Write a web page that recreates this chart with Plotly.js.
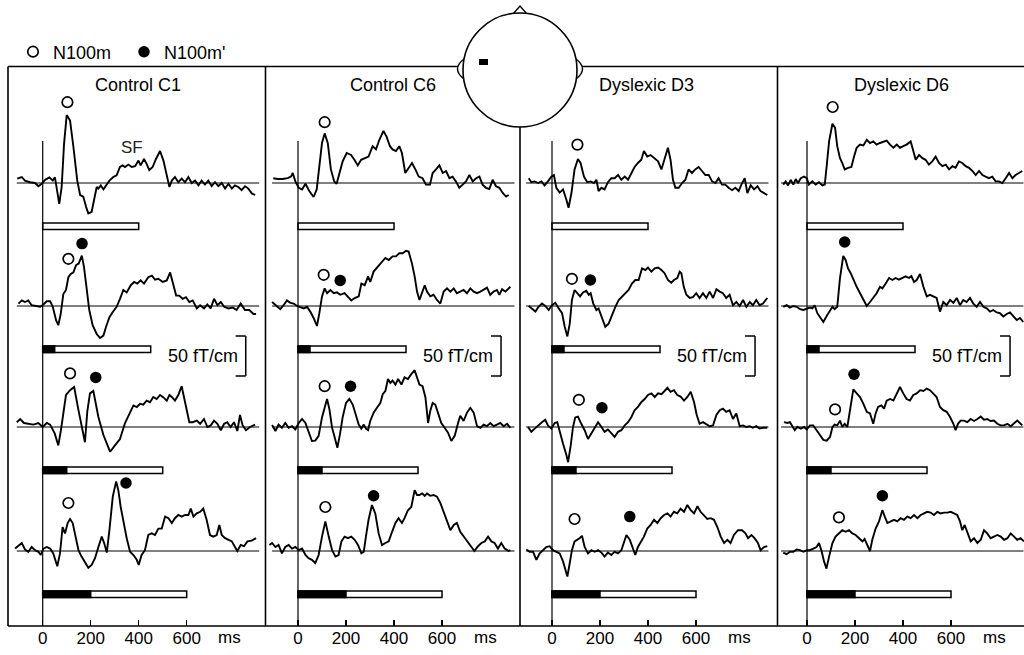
<!DOCTYPE html>
<html><head><meta charset="utf-8">
<script src="https://cdn.plot.ly/plotly-3.0.1.min.js"></script>
<style>html,body{margin:0;padding:0;background:#fff;overflow:hidden}</style>
</head><body><div id="chart" style="width:1024px;height:655px"></div>
<script>
// ---------------- data ----------------
const subjects = ['Control C1', 'Control C6', 'Dyslexic D3', 'Dyslexic D6'];
const leadMs = [0, 50, 100, 200];      // duration of leading (black) part of the stimulus, ms
const toneMs = 400;                    // duration of the following (white) part, ms
const tickVals = [0, 200, 400, 600];
const tickText = ['0', '200', '400', '600'];
const unitLabel = 'ms';
const scaleBarValue = 50;              // fT/cm
const scaleBarText = '50 fT/cm';

// waveforms: [time ms, field fT/cm]
const C1_r1 = [[-106,5.4],[-87,7.5],[-74,3],[-53,1],[-32,0],[-18,-4],[-4,-1],[10,4],[28,7],[42,3],[51,7],[61,-11],[69,-26],[79,-5],[89,49],[100,85],[114,78],[128,45],[144,3],[156,-15],[169,-17],[181,-30],[190,-38],[204,-36],[214,-22],[225,-5],[232,-7],[242,-3],[253,-8],[264,-3],[278,3],[294,7.5],[308,9.6],[322,20],[333,22],[343,20],[357,23],[371,20],[385,21],[399,28],[408,22],[422,30],[433,24],[444,16],[458,20],[472,30],[489,40],[503,28],[517,10],[528,-5],[538,3],[551,7.5],[565,1],[579,5.4],[593,1],[607,7.5],[621,0],[635,3],[649,-3],[662,3],[676,-2],[690,3],[704,-4],[718,1],[732,-4],[746,0],[760,-7],[774,-1],[788,-7],[801,-3],[815,-5],[829,-9],[843,-4],[857,-7],[871,-13],[885,-15]];
const C1_r2 = [[-101,3],[-87,7],[-74,5],[-60,7],[-46,1],[-25,0],[-11,-1],[3,2],[17,6],[31,6],[42,-1],[56,-18],[65,-24],[75,-10],[86,15],[97,20],[107,36],[117,40],[128,42],[139,51],[150,53],[163,63],[172,49],[183,22],[194,-5],[208,-24],[225,-35],[239,-40],[253,-37],[264,-26],[278,-14],[292,-7.5],[308,-1],[322,9],[336,20],[350,17],[367,26],[381,30],[394,28],[408,32],[422,28],[440,36],[455,38],[468,33],[482,34],[500,30],[517,32],[531,42],[542,28],[556,13],[569,13],[583,9],[597,11],[611,5],[625,7],[642,-3],[656,1],[672,-3],[686,2],[700,-3],[714,9],[728,1],[742,5],[756,-1],[774,-3],[792,-2],[808,-5],[825,3],[843,-5],[861,-5],[878,-10],[889,-10]];
const C1_r3 = [[-108,6],[-94,10],[-78,5],[-60,4],[-39,3],[-18,5],[0,0],[17,5],[31,3],[50,-8],[65,-23],[76,-4],[86,20],[97,40],[114,46],[131,50],[149,21],[162,0],[176,-19],[186,20],[197,42],[211,45],[222,30],[232,12.5],[253,-10],[281,-31],[301,-23],[322,-15],[343,5],[364,19],[378,27],[392,25],[406,29],[419,28],[433,33],[447,31],[461,37.5],[475,35],[489,40],[503,37],[517,33],[528,40],[538,37.5],[551,33],[565,40],[579,51],[589,37.5],[600,21],[611,6],[625,6],[642,8],[656,4],[672,10],[686,0],[700,2],[714,8],[728,4],[742,-4],[756,4],[769,6],[783,0],[797,6],[811,-5],[822,15],[833,2],[847,-4],[864,0],[885,3]];
const C1_r4 = [[-115,3],[-101,6],[-87,10],[-74,2],[-60,-1],[-46,5],[-32,1],[-18,-1],[-8,-5],[3,3],[17,5],[31,3],[44,-3],[61,-19],[72,-3],[83,30],[93,22],[104,35],[114,40],[125,35],[136,20],[149,1],[162,-7],[176,-15],[190,-21],[204,-17.5],[218,-9],[232,5],[246,18],[256,10],[267,-2],[278,26],[292,68],[306,87],[315,76],[325,55],[339,30],[350,16],[364,-1],[378,-5],[392,-11],[400,-17.5],[412,-5],[426,1],[440,20],[454,22],[468,20],[482,28],[496,28],[510,43],[524,41],[538,35],[551,41],[565,45],[579,43],[593,45],[607,45],[617,53],[628,43],[642,47],[656,49],[669,53],[683,39],[697,20],[711,18],[725,20],[736,32.5],[746,20],[760,16],[774,14],[788,12],[801,5],[811,0],[825,7.5],[839,6],[853,12],[871,13],[889,16]];

const C6_r1 = [[-103,6],[-85,5],[-64,5],[-43,6],[-29,8],[-22,12.5],[-11,2],[3,-6],[17,-8],[31,-1],[47,-10],[65,-17.5],[78,-8],[89,21],[100,50],[111,62],[124,50],[137,17],[151,2],[161,-1],[172,12.5],[186,27],[203,37.5],[221,35],[235,29],[249,22],[263,29],[281,31],[294,33],[311,46],[325,42],[339,54],[356,65],[369,58],[383,46],[394,42],[408,40],[422,46],[433,37.5],[447,12.5],[461,19],[475,25],[489,17],[503,8],[519,6],[533,-2],[550,-2],[561,12.5],[575,17],[589,22],[603,12.5],[617,15],[631,6],[644,8],[658,2],[672,-6],[686,-2],[700,2],[714,10],[728,2],[742,6],[756,8],[769,-2],[783,-6],[797,-7.5],[811,4],[825,-4],[839,-6],[853,-12.5],[867,-17],[878,-15]];
const C6_r2 = [[-108,5],[-92,1],[-74,-4],[-60,1],[-46,7],[-32,4],[-18,3],[-4,0],[10,-2],[24,-3],[37.5,-1],[51,-7],[65,-15],[79,-25],[89,-9],[100,12],[111,22],[121,16],[135,20],[149,16],[162,17],[176,14],[194,16],[208,12],[222,7],[236,10],[253,12],[264,28],[278,26],[292,37],[301,30],[315,43],[333,49],[350,55],[364,60],[378,57.5],[394,62],[408,62],[422,66],[436,66],[450,69],[461,68],[475,53],[486,37],[496,18],[506,7.5],[517,16],[528,26],[537.5,18],[551,12],[565,14],[579,7.5],[593,3],[607,18],[621,22],[635,18],[649,22],[662,16],[676,18],[690,20],[704,16],[718,22],[732,18],[746,16],[760,18],[774,21],[787.5,23],[801,14],[815,18],[829,20],[839,14],[850,21],[864,18],[885,24]];
const C6_r3 = [[-108,2.5],[-94,-5],[-81,3],[-67,-1],[-53,5],[-39,-1],[-25,1],[-11,-3],[3,5],[17,10],[31,5],[44,-5],[58,-17.5],[72,-17],[86,-11],[100,12],[111,24],[121,35],[131,22],[142,-1],[153,-13],[164,-26],[175,-9],[186,12],[200,30],[214,35],[228,28],[242,14],[253,3],[264,-2],[274,3],[283,-2],[292,-4],[301,7.5],[315,18],[329,24],[343,30],[353,41],[364,45],[375,60],[385,55],[394,58],[406,53],[417,60],[431,53],[444,62],[458,60],[472,66],[486,71],[496,62],[506,53],[519,51],[531,37],[542,5],[551,20],[561,30],[572,28],[583,18],[597,5],[611,-1],[625,-7],[639,-17.5],[653,-11],[667,5],[676,14],[690,7.5],[704,18],[718,24],[732,18],[746,1],[760,-1],[774,3],[787,1],[801,5],[815,1],[829,3],[843,5],[857,1],[871,4],[885,-1]];
const C6_r4 = [[-119,7.5],[-108,10],[-94,5],[-81,7.5],[-67,-3],[-53,5],[-39,7.5],[-25,3],[-11,5],[3,1],[17,3],[31,-5],[44,-9],[58,-11],[72,-15],[86,-5],[100,18],[114,37],[128,18],[142,1],[156,-7],[169,-5],[181,12],[194,18],[208,16],[222,18],[236,14],[250,7.5],[264,-3],[274,-1],[283,18],[294,39],[308,57.5],[322,47],[336,22],[350,7.5],[364,10],[378,12],[392,24],[406,35],[419,41],[433,35],[444,41],[458,51],[472,55],[486,76],[496,70],[506,70],[517,72],[528,69],[537.5,72],[551,69],[565,70],[579,68],[593,60],[607,49],[621,39],[635,26],[649,32.5],[662,35],[676,24],[690,18],[704,12],[718,7.5],[735,0],[750,6],[764,10],[778,12],[792,18],[806,12],[819,10],[833,3],[847,10],[861,3],[878,0],[885,1]];

const D3_r1 = [[-97,6],[-86,1],[-72,2],[-58,0],[-44,2],[-31,-3],[-17,2],[-3,8],[8,10],[18,-6],[32,-12],[46,-8],[60,-21],[69,-31],[81,-12.5],[94,17],[108,30],[119,25],[133,8],[147,1],[161,2],[175,0],[185,4],[194,-10],[206,-6],[219,-8],[233,1],[247,6],[261,6],[275,10],[289,4],[303,8],[317,4],[331,13],[344,20],[358,25],[372,29],[383,40],[397,33],[411,35],[428,31],[442,27],[456,17],[469,29],[483,44],[494,29],[504,4],[514,-6],[528,-6],[542,0],[556,4],[569,17],[583,12.5],[597,17],[611,20],[625,15],[639,10],[653,10],[667,2],[681,0],[694,6],[708,-2],[722,-2],[736,-6],[750,-9],[764,-6],[778,-10],[789,-2],[803,6],[814,-12.5],[828,-3],[842,-8],[856,-4],[869,-10],[883,-12],[897,-15]];
const D3_r2 = [[-97,0],[-83,-3],[-69,-7],[-56,-1],[-42,3],[-28,0],[-14,-5],[0,1],[14,4],[28,-3],[42,-9],[53,-26],[64,-38],[74,-22],[83,7.5],[94,20],[106,16],[117,12],[129,17],[143,19],[153,14],[161,16],[172,3],[185,-5],[194,-3],[206,-13],[222,-26],[236,-22],[250,-11],[264,-1],[278,7.5],[292,12],[306,16],[319,20],[333,28],[347,32.5],[361,32.5],[375,47],[389,45],[400,48],[414,43],[428,47],[442,48],[456,45],[469,41],[483,32.5],[497,29],[508,32.5],[522,35],[532,43],[539,41],[549,24],[560,14],[574,10],[587,11],[601,16],[615,10],[629,16],[643,10],[657,18],[671,10],[685,21],[699,18],[712,16],[726,10],[740,14],[754,1],[768,5],[782,0],[796,7.5],[810,-1],[824,5],[837,1],[851,7.5],[865,1],[879,3],[897,10]];
const D3_r3 = [[-100,0],[-86,-6],[-72,-2],[-58,2],[-42,6],[-28,9],[-17,2],[-3,-2],[11,5],[22,6],[32,-6],[46,-21],[60,-35],[67,-44],[78,-23],[87.5,0],[97,12],[108,13],[122,4],[136,-4],[150,-15],[164,-8],[178,0],[192,6],[206,0],[219,-6],[233,-3],[247,-8],[261,-12.5],[275,-6],[289,-4],[303,2],[317,6],[331,12.5],[344,21],[358,25],[372,31],[386,35],[400,40],[414,42],[428,37.5],[442,42],[456,41],[469,45],[481,49],[494,44],[508,46],[522,40],[536,38],[550,33],[564,37.5],[578,44],[592,31],[603,15],[615,4],[629,6],[643,4],[657,1],[671,2],[685,15],[699,21],[712,23],[726,19],[740,21],[754,10],[768,17],[782,1],[796,2],[810,0],[824,1],[837,-1],[851,1],[865,-2],[879,-1],[897,-1]];
const D3_r4 = [[-107,2],[-93,-1],[-79,-1],[-65,-11],[-51,-3],[-37.5,1],[-24,5],[-10,6],[4,1],[18,-1],[32,-3],[46,-13],[56,-24],[64,-32],[74,-15],[83,1],[94,12],[106,14],[115,16],[125,19],[136,5],[150,-3],[164,1],[178,-1],[192,1],[206,-2],[219,-7],[233,-2],[247,-5],[261,-1],[275,-3],[289,1],[300,10],[310,20],[324,14],[337.5,1],[347,-5],[358,5],[369,10],[383,18],[397,28],[411,32.5],[425,39],[439,35],[453,41],[467,45],[481,47],[494,43],[508,49],[522,47],[536,53],[550,49],[564,57.5],[578,51],[592,47],[606,56],[619,49],[633,45],[647,40],[661,41],[675,39],[689,30],[703,18],[717,10],[731,14],[744,10],[758,20],[775,26],[792,26],[806,22],[817,16],[831,20],[844,16],[858,10],[869,1],[883,5],[897,6]];

const D6_r1 = [[-99,-2],[-89,2],[-79,-3],[-68,4],[-57,-2],[-47,5],[-37.5,0],[-26,6],[-12.5,8],[-1,6],[8,-2],[22,2],[36,-2],[50,1],[64,-3],[74,-2],[82,21],[92,52],[106,74],[117,69],[126,46],[137.5,31],[147,25],[157,17],[171,19],[185,20],[196,33],[207,44],[221,48],[235,47],[249,54],[262.5,50],[276,52],[290,48],[304,50],[318,52],[332,53],[346,48],[360,44],[374,48],[387.5,44],[401,46],[415,48],[432,52],[443,40],[453,29],[467,35],[481,31],[494,29],[508,23],[522,27],[536,33],[550,25],[564,21],[578,23],[592,17],[606,21],[619,19],[633,27],[647,25],[661,21],[675,19],[689,15],[703,10],[717,15],[731,10],[744,8],[758,6],[772,8],[786,2],[800,2],[814,0],[828,6],[842,12.5],[856,6],[869,10],[883,12.5],[897,15]];
const D6_r2 = [[-99,-1],[-85,1],[-71,-2],[-57,0],[-43,-1],[-29,-4],[-15,-5],[-1,-3],[12.5,-2],[22,-3],[32,1],[43,-9],[57,-15],[68,-20],[82,-12.5],[96,-6],[106,-1],[115,-4],[126,-1],[137.5,35],[151,62.5],[161,57.5],[171,47],[182,41],[193,32.5],[207,24],[221,16],[235,7.5],[249,0],[262.5,5],[276,10],[290,16],[304,24],[314,22],[328,28],[342,35],[356,32.5],[369,35],[383,33],[397,35],[411,37],[425,35],[435,37.5],[446,30],[457,32.5],[471,40],[485,24],[499,12],[512.5,14],[526,12],[540,10],[554,-7],[568,5],[582,1],[596,7.5],[610,4],[624,10],[637.5,1],[651,7.5],[665,5],[679,10],[693,3],[707,-1],[721,5],[735,-1],[749,-3],[762.5,-7],[776,-5],[790,-8],[804,-9],[818,-13],[832,-10],[846,-8],[860,-13],[874,-17.5],[887.5,-15],[901,-20]];
const D6_r3 = [[-96,6],[-82,5],[-71,6],[-61,0],[-51,-4],[-40,0],[-26,-2],[-12.5,0],[-1,-3],[12.5,2],[26,2],[40,-4],[54,-10],[68,-16],[82,-17],[96,-12.5],[106,0],[115,3],[126,2],[137.5,8],[147,0],[157,4],[168,0],[179,23],[193,47],[207,42],[221,37.5],[235,29],[249,19],[262.5,17],[276,4],[286,17],[296,25],[310,27],[321,23],[332,33],[346,35],[360,33],[374,42],[387.5,50],[401,42],[415,35],[429,33],[443,40],[457,42],[471,46],[485,45],[499,48],[512.5,46],[526,42],[540,37.5],[554,25],[568,21],[582,19],[596,12.5],[610,4],[619,-4],[629,4],[640,8],[654,8],[668,6],[682,10],[696,7.5],[710,10],[724,13],[737.5,9],[751,10],[765,7.5],[779,8],[793,4],[807,2],[821,2],[835,4],[849,1],[862.5,4],[876,8],[897,2]];
const D6_r4 = [[-99,-2],[-85,-4],[-71,-1],[-57,-1],[-43,2],[-29,1],[-15,-1],[-1,1],[12.5,1],[26,3],[40,5],[50,10],[60,1],[71,-13],[81,-22],[92,-7],[106,10],[119,18],[133,22],[147,26],[161,24],[175,26],[189,22],[203,20],[217,16],[231,12],[240,15],[251,7.5],[262.5,0],[272,14],[286,28],[300,37],[314,51],[324,43],[335,35],[349,37],[362.5,39],[376,37],[390,41],[404,39],[418,43],[432,41],[446,45],[460,41],[474,45],[487.5,47],[501,49],[515,48],[529,45],[543,49],[557,47],[571,48],[585,48],[599,49],[612.5,47],[626,45],[637.5,37],[647,26],[657,32.5],[668,24],[682,12],[696,16],[710,10],[724,14],[737.5,26],[751,22],[765,16],[779,18],[793,20],[807,18],[821,14],[835,16],[849,22],[862.5,18],[876,14],[890,16],[904,12]];

// N100m (open) and N100m' (filled) markers: [latency ms, height fT/cm], per row
const N100m_C1 = [[103,101],[107,59],[114,67],[107,60]];
const N100m_C6 = [[111,76],[107,39],[111,51],[114,55]];
const N100m_D3 = [[106,48],[83,34],[112,34],[94,40]];
const N100m_D6 = [[107,95],null,[117,22],[133,42]];
const N100mP_C1 = [null,[164,78],[221,62],[347,85]];
const N100mP_C6 = [null,[176,32],[219,51],[315,69]];
const N100mP_D3 = [null,[160,32.5],[208,24],[324,43]];
const N100mP_D6 = [null,[157,80],[196,66],[314,69]];
const sfLabel = {text: 'SF', t: 371, v: 44};

// ---------------- layout constants ----------------
const W = 1024, H = 655;
const PX_PER_MS = 0.24, PX_PER_UNIT = 0.8;
const zeroPx = [42.7, 298, 552, 807];
const basePx = [183, 306, 427, 551];
const rowTop = [90, 200, 330, 450], rowBot = [250, 380, 500, 626];
const FONT = 'Liberation Sans, Arial, Helvetica, sans-serif';
const px = X => X / W, py = Y => 1 - Y / H;

const waves = [[C1_r1, C1_r2, C1_r3, C1_r4], [C6_r1, C6_r2, C6_r3, C6_r4],
               [D3_r1, D3_r2, D3_r3, D3_r4], [D6_r1, D6_r2, D6_r3, D6_r4]];
const openM = [N100m_C1, N100m_C6, N100m_D3, N100m_D6];
const fillM = [N100mP_C1, N100mP_C6, N100mP_D3, N100mP_D6];

const layout = {
  width: W, height: H, margin: {l: 0, r: 0, t: 0, b: 0},
  paper_bgcolor: '#fff', plot_bgcolor: 'rgba(0,0,0,0)',
  font: {family: FONT, size: 18, color: '#000'},
  showlegend: true,
  legend: {orientation: 'h', x: px(13), y: py(52), xanchor: 'left', yanchor: 'middle',
           bgcolor: 'rgba(0,0,0,0)', font: {size: 18, family: FONT}, itemwidth: 30,
           entrywidth: 66, entrywidthmode: 'pixels'},
  shapes: [], annotations: []
};
const ax = (k, i) => k + (i === 0 ? '' : (i + 1));
const axName = (k, i) => k + 'axis' + (i === 0 ? '' : (i + 1));

for (let c = 0; c < 4; c++) {
  const z = zeroPx[c];
  const r0 = -140, r1 = Math.min(920, (W - z) / PX_PER_MS);
  layout[axName('x', c)] = {
    domain: [px(z + r0 * PX_PER_MS), Math.min(1, px(z + r1 * PX_PER_MS))],
    range: [r0, r1], anchor: 'y4', showgrid: false, zeroline: false, showline: false,
    ticks: 'inside', ticklen: 6, tickwidth: 1.5, tickcolor: '#000',
    tickvals: tickVals, ticktext: tickText, tickfont: {size: 17, family: FONT, color: '#000'},
    fixedrange: true
  };
}
for (let r = 0; r < 4; r++) {
  layout[axName('y', r)] = {
    domain: [py(rowBot[r]), py(rowTop[r])],
    range: [-(rowBot[r] - basePx[r]) / PX_PER_UNIT, (basePx[r] - rowTop[r]) / PX_PER_UNIT],
    visible: false, anchor: 'x', fixedrange: true
  };
}

const traces = [];
let openShown = false, fillShown = false;
for (let c = 0; c < 4; c++) {
  for (let r = 0; r < 4; r++) {
    const xa = ax('x', c), ya = ax('y', r);
    const w = waves[c][r];
    traces.push({type: 'scatter', mode: 'lines', x: w.map(p => p[0]), y: w.map(p => p[1]),
      xaxis: xa, yaxis: ya, line: {color: '#000', width: 1.9}, showlegend: false, hoverinfo: 'skip'});
    // baseline
    layout.shapes.push({type: 'line', xref: xa, yref: ya, x0: -108, x1: 902, y0: 0, y1: 0,
      line: {color: '#000', width: 1}});
    // stimulus bar
    const total = leadMs[r] + toneMs;
    layout.shapes.push({type: 'rect', xref: xa, yref: ya, x0: 0, x1: total, y0: -58, y1: -50,
      fillcolor: '#fff', line: {color: '#000', width: 1.5}});
    if (leadMs[r] > 0) layout.shapes.push({type: 'rect', xref: xa, yref: ya, x0: 0, x1: leadMs[r],
      y0: -58, y1: -50, fillcolor: '#000', line: {color: '#000', width: 1.5}});
    const o = openM[c][r];
    if (o) {
      traces.push({type: 'scatter', mode: 'markers', x: [o[0]], y: [o[1]], xaxis: xa, yaxis: ya,
        name: 'N100m', legendgroup: 'o', showlegend: !openShown, cliponaxis: false, hoverinfo: 'skip',
        marker: {symbol: 'circle-open', size: 10.5, color: '#000', line: {width: 1.7, color: '#000'}}});
      openShown = true;
    }
    const f = fillM[c][r];
    if (f) {
      traces.push({type: 'scatter', mode: 'markers', x: [f[0]], y: [f[1]], xaxis: xa, yaxis: ya,
        name: "N100m'", legendgroup: 'f', showlegend: !fillShown, cliponaxis: false, hoverinfo: 'skip',
        marker: {symbol: 'circle', size: 11.5, color: '#000'}});
      fillShown = true;
    }
  }
  const xa = ax('x', c);
  // vertical stimulus-onset line
  layout.shapes.push({type: 'line', xref: xa, yref: 'paper', x0: 0, x1: 0, y0: py(141), y1: py(626),
    line: {color: '#000', width: 1.2}});
  // scale bracket (row 2)
  const top = -37.5, bot = top - scaleBarValue;
  layout.shapes.push({type: 'line', xref: xa, yref: 'y2', x0: 846, x1: 846, y0: top, y1: bot, line: {color: '#000', width: 1.5}});
  layout.shapes.push({type: 'line', xref: xa, yref: 'y2', x0: 804, x1: 846, y0: top, y1: top, line: {color: '#000', width: 1.5}});
  layout.shapes.push({type: 'line', xref: xa, yref: 'y2', x0: 804, x1: 846, y0: bot, y1: bot, line: {color: '#000', width: 1.5}});
  layout.annotations.push({xref: xa, yref: 'y2', x: 822, y: (top + bot) / 2, xanchor: 'right', yanchor: 'middle',
    text: scaleBarText, showarrow: false, font: {size: 18, family: FONT, color: '#000'}});
  layout.annotations.push({xref: xa, yref: 'paper', x: 395, y: py(85), xanchor: 'center', yanchor: 'middle',
    text: subjects[c], showarrow: false, font: {size: 18, family: FONT, color: '#000'}});
  layout.annotations.push({xref: xa, yref: 'paper', x: 780, y: py(637), xanchor: 'center', yanchor: 'middle',
    text: unitLabel, showarrow: false, font: {size: 17, family: FONT, color: '#000'}});
}
layout.annotations.push({xref: 'x', yref: 'y', x: sfLabel.t, y: sfLabel.v, text: sfLabel.text, showarrow: false,
  xanchor: 'center', yanchor: 'middle', font: {size: 17, family: FONT, color: '#222'}});

// panel frame
const LW = 1.6;
const frame = [[8, 66.5, 1030, 66.5], [8, 626, 1030, 626], [8, 66.5, 8, 626], [265.5, 66.5, 265.5, 626],
               [520, 66.5, 520, 626], [777.5, 66.5, 777.5, 626]];
frame.forEach(s => layout.shapes.push({type: 'line', xref: 'paper', yref: 'paper',
  x0: px(s[0]), y0: py(s[1]), x1: px(s[2]), y1: py(s[3]), line: {color: '#000', width: LW}}));
// head diagram
const P = (X, Y) => px(X).toFixed(5) + ',' + py(Y).toFixed(5);
layout.shapes.push({type: 'path', xref: 'paper', yref: 'paper', path: `M ${P(512.5,14.5)} L ${P(520,6)} L ${P(527.5,14.5)} Z`,
  fillcolor: '#fff', line: {color: '#000', width: 1.4}});
layout.shapes.push({type: 'path', xref: 'paper', yref: 'paper', path: `M ${P(464,59)} Q ${P(451,69)} ${P(464,79)} Z`,
  fillcolor: '#fff', line: {color: '#000', width: 1.4}});
layout.shapes.push({type: 'path', xref: 'paper', yref: 'paper', path: `M ${P(576,59)} Q ${P(589,69)} ${P(576,79)} Z`,
  fillcolor: '#fff', line: {color: '#000', width: 1.4}});
layout.shapes.push({type: 'circle', xref: 'paper', yref: 'paper', x0: px(463), x1: px(577), y0: py(127), y1: py(13),
  fillcolor: '#fff', line: {color: '#000', width: 1.6}});
layout.shapes.push({type: 'rect', xref: 'paper', yref: 'paper', x0: px(479), x1: px(488), y0: py(65), y1: py(59),
  fillcolor: '#000', line: {width: 0}});

Plotly.newPlot('chart', traces, layout, {staticPlot: true, displayModeBar: false});
</script></body></html>
